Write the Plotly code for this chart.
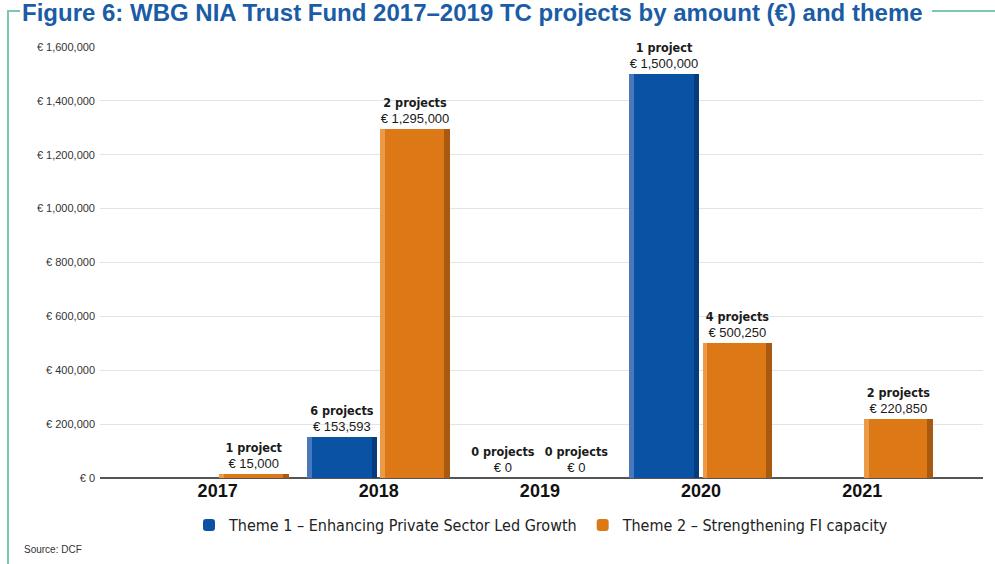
import plotly.graph_objects as go

# Funding by year and theme
years = ["2017", "2018", "2019", "2020", "2021"]
theme1_amount = [None, 153593, 0, 1500000, None]
theme1_projects = [None, 6, 0, 1, None]
theme2_amount = [15000, 1295000, 0, 500250, 220850]
theme2_projects = [1, 2, 0, 4, 2]

theme1_name = "Theme 1 \u2013 Enhancing Private Sector Led Growth"
theme2_name = "Theme 2 \u2013 Strengthening FI capacity"
y_ticks = [0, 200000, 400000, 600000, 800000, 1000000, 1200000, 1400000, 1600000]

W, H = 995, 564
ML, MR, MT, MB = 100, 12, 47, 86

NARROW = "DejaVu Sans Condensed, Liberation Sans Narrow, Arial Narrow, sans-serif"
SANS = "Liberation Sans, Arial, sans-serif"


def label_text(amounts, counts):
    out = []
    for a, n in zip(amounts, counts):
        if a is None:
            out.append("")
            continue
        word = "project" if n == 1 else "projects"
        out.append(
            f"<b>{n} {word}</b><br>"
            f"<span style='font-family:Liberation Sans, Arial, sans-serif;font-size:13px;font-weight:normal'>"
            f"\u20ac {a:,}</span>"
        )
    return out


def bar_set(amounts, counts, name, offset, width, main, light, dark):
    strip_l = 0.03
    strip_r = 0.035
    traces = [
        go.Bar(
            x=years, y=amounts, name=name, offset=offset, width=width,
            marker=dict(color=main, line=dict(width=0), cornerradius=5),
            text=label_text(amounts, counts), textposition="outside",
            textfont=dict(family=NARROW, size=12.5, color="#1a1a1a"),
            cliponaxis=False, hoverinfo="x+y",
        ),
        go.Bar(
            x=years, y=amounts, offset=offset, width=strip_l,
            marker=dict(color=light, line=dict(width=0)),
            showlegend=False, hoverinfo="skip",
        ),
        go.Bar(
            x=years, y=amounts, offset=offset + width - strip_r, width=strip_r,
            marker=dict(color=dark, line=dict(width=0)),
            showlegend=False, hoverinfo="skip",
        ),
    ]
    return traces


fig = go.Figure()
for t in bar_set(theme1_amount, theme1_projects, theme1_name, -0.445, 0.435,
                 "#0a52a3", "#4a78bd", "#063b7c"):
    fig.add_trace(t)
for t in bar_set(theme2_amount, theme2_projects, theme2_name, 0.01, 0.43,
                 "#dc7816", "#eb9a47", "#a85a10"):
    fig.add_trace(t)

fig.update_layout(
    width=W, height=H,
    margin=dict(l=ML, r=MR, t=MT, b=MB),
    paper_bgcolor="white", plot_bgcolor="white",
    barmode="overlay",
    font=dict(family=SANS, color="#222"),
    title=dict(
        text="<b>Figure 6: WBG NIA Trust Fund 2017\u20132019 TC projects by amount (\u20ac) and theme</b>",
        font=dict(family=SANS, size=24, color="#1b5ca6"),
        xref="container", yref="container",
        x=22 / W, xanchor="left", y=1 - 13 / H, yanchor="middle",
    ),
    xaxis=dict(
        type="category", range=[-0.73, 4.75],
        showgrid=False, zeroline=False, showline=False, ticks="",
        tickfont=dict(family=SANS, size=18, color="#111", weight="bold"),
    ),
    yaxis=dict(
        range=[0, 1600000], tickvals=y_ticks,
        ticktext=["\u20ac 0"] + [f"\u20ac {v:,}" for v in y_ticks[1:]],
        tickfont=dict(family=SANS, size=11, color="#333"),
        showgrid=True, gridcolor="#e4e4e4", gridwidth=1,
        zeroline=True, zerolinecolor="#555", zerolinewidth=2,
        showline=False, ticks="", ticklabelstandoff=4,
    ),
    legend=dict(
        orientation="h", x=0.5, xanchor="center",
        y=-(525 - 478) / (H - MT - MB), yanchor="middle",
        font=dict(family=NARROW, size=16, color="#222"),
        traceorder="normal", itemwidth=30,
    ),
    bargap=0, showlegend=True,
)


def px_x(px):
    return (px - ML) / (W - ML - MR)


def px_y(py):
    return 1 - (py - MT) / (H - MT - MB)


frame = "#7cc6b6"
fig.add_shape(type="line", xref="paper", yref="paper",
              x0=px_x(8), x1=px_x(8), y0=px_y(11), y1=px_y(566),
              line=dict(color=frame, width=2))
fig.add_shape(type="line", xref="paper", yref="paper",
              x0=px_x(7), x1=px_x(20), y0=px_y(11), y1=px_y(11),
              line=dict(color=frame, width=2))
fig.add_shape(type="line", xref="paper", yref="paper",
              x0=px_x(932), x1=px_x(997), y0=px_y(11), y1=px_y(11),
              line=dict(color=frame, width=2))

fig.add_annotation(
    text="Source: DCF", xref="paper", yref="paper",
    x=px_x(22), y=px_y(549), xanchor="left", yanchor="middle",
    showarrow=False, font=dict(family=SANS, size=10, color="#333"),
)

fig.write_html("out.html")
